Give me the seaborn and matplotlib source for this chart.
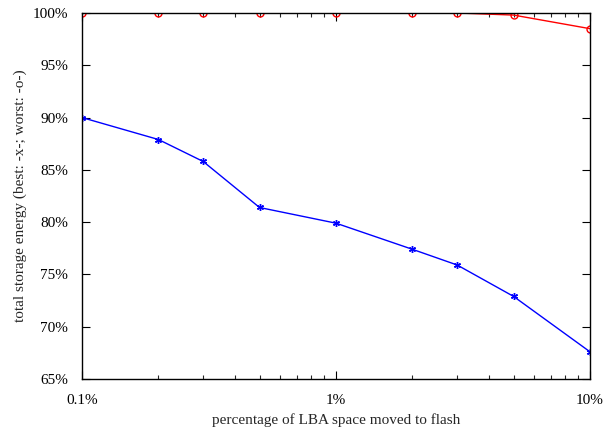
import matplotlib
matplotlib.use("Agg")
import matplotlib.pyplot as plt
import matplotlib.ticker as mticker
import numpy as np
import pandas as pd
import seaborn as sns

# fraction of LBA space moved to flash (percent)
moved_pct = [0.1, 0.2, 0.3, 0.5, 1, 2, 3, 5, 10]
# total storage energy relative to baseline (percent)
best_energy = [90.0, 87.9, 85.8, 81.4, 79.9, 77.4, 75.9, 72.9, 67.6]
worst_energy = [100.0, 100.0, 100.0, 100.0, 100.0, 100.0, 100.0, 99.8, 98.5]

ytick_vals = [65, 70, 75, 80, 85, 90, 95, 100]
xtick_vals = [0.1, 1, 10]
xtick_labels = ["0.1%", "1%", "10%"]

sns.set_style("ticks")
plt.rcParams["font.family"] = ["Liberation Serif", "DejaVu Serif"]

df = pd.DataFrame({
    "moved": moved_pct * 2,
    "energy": best_energy + worst_energy,
    "case": ["best"] * len(moved_pct) + ["worst"] * len(moved_pct),
})

fig = plt.figure(figsize=(6.06, 4.30), dpi=100)
ax = fig.add_axes([0.1353, 0.1186, 0.8383, 0.8512])

asterisk = (6, 2, 0)
sns.lineplot(data=df[df.case == "best"], x="moved", y="energy", ax=ax,
             color="#0000ff", lw=1.0, marker=asterisk, markersize=5,
             markeredgewidth=1.0, markeredgecolor="#0000ff", legend=False)
sns.lineplot(data=df[df.case == "worst"], x="moved", y="energy", ax=ax,
             color="#ff0000", lw=1.0, marker="o", markersize=5,
             markerfacecolor="none", markeredgewidth=1.0,
             markeredgecolor="#ff0000", legend=False)

ax.set_xscale("log")
ax.set_xlim(0.1, 10)
ax.set_ylim(65, 100)
ax.set_xticks(xtick_vals)
ax.set_xticklabels(xtick_labels)
ax.xaxis.set_minor_locator(mticker.LogLocator(base=10, subs=np.arange(2, 10)))
ax.xaxis.set_minor_formatter(mticker.NullFormatter())
ax.set_yticks(ytick_vals)
ax.set_yticklabels([f"{v}%" for v in ytick_vals])

ax.tick_params(axis="both", which="major", direction="in", length=6, width=0.8,
               top=True, right=True, labelsize=11, colors="black", pad=10)
ax.tick_params(axis="x", which="minor", direction="in", length=3, width=0.8,
               top=True, bottom=True)
ax.tick_params(axis="x", which="major", pad=11)

for side in ["left", "right", "top", "bottom"]:
    ax.spines[side].set_visible(True)
    ax.spines[side].set_color("black")
    ax.spines[side].set_linewidth(1.0)

ax.set_xlabel("percentage of LBA space moved to flash", fontsize=11, labelpad=4)
ax.set_ylabel("total storage energy (best: -x-; worst: -o-)", fontsize=11, labelpad=4)

fig.savefig("out.png", dpi=100)
